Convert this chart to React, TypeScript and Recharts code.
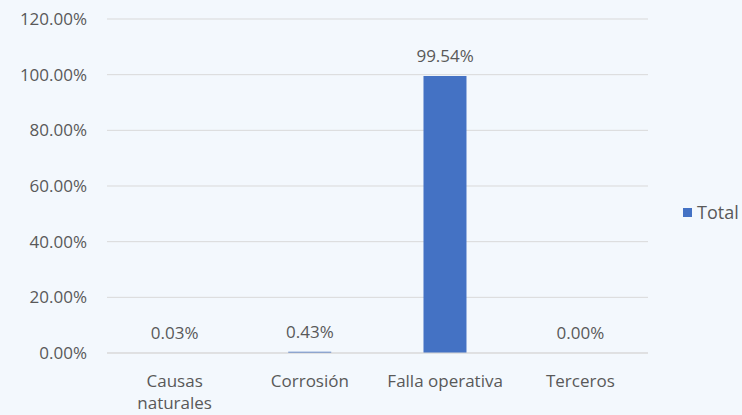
import React from "react";
import { ComposedChart, Bar, Line, XAxis, YAxis, CartesianGrid, Legend, LabelList } from "recharts";

const categories = ["Causas naturales", "Corrosión", "Falla operativa", "Terceros"];
const totals = [0.03, 0.43, 99.54, 0.0];
const yTicks = [0, 20, 40, 60, 80, 100, 120];
const seriesName = "Total";

const data = categories.map((c, i) => ({ name: c, total: totals[i] }));

const FONT = "'Open Sans', 'Noto Sans', sans-serif";
const FS = 17;
const TEXT = "#595959";
const BLUE = "#4472C4";

const fmt = (v: number) => `${Number(v).toFixed(2)}%`;

const XTick = (props: any) => {
  const { x, y, payload } = props;
  const label: string = payload.value;
  let lines = [label];
  if (label.length > 15) {
    const i = label.indexOf(" ");
    lines = [label.slice(0, i), label.slice(i + 1)];
  }
  return (
    <text x={x} y={y + 26} textAnchor="middle" fill={TEXT} fontSize={FS} fontFamily={FONT}>
      {lines.map((l, k) => (
        <tspan key={k} x={x} dy={k === 0 ? 0 : 22}>
          {l}
        </tspan>
      ))}
    </text>
  );
};

const PointLabel = (props: any) => {
  const { x, y, value } = props;
  return (
    <text x={x} y={y - 14} textAnchor="middle" fill={TEXT} fontSize={FS} fontFamily={FONT}>
      {fmt(value)}
    </text>
  );
};

const LegendContent = () => (
  <div style={{ display: "flex", alignItems: "center", fontFamily: FONT, fontSize: 18, color: TEXT, whiteSpace: "nowrap" }}>
    <span style={{ width: 9, height: 9, minWidth: 9, flexShrink: 0, background: BLUE, display: "inline-block", marginRight: 5 }} />
    <span>{seriesName}</span>
  </div>
);

export default function App() {
  return (
    <div style={{ position: "absolute", left: 0, top: 0, width: 742, height: 415, background: "#F3F8FD" }}>
      <ComposedChart width={742} height={415} data={data} margin={{ top: 19, right: 94, bottom: 0, left: 0 }} barCategoryGap="34%">
        <CartesianGrid vertical={false} stroke="#D9D9D9" />
        <XAxis
          dataKey="name"
          axisLine={{ stroke: "#D9D9D9" }}
          tickLine={false}
          tick={<XTick />}
          height={62}
          interval={0}
        />
        <YAxis
          domain={[0, 120]}
          ticks={yTicks}
          width={107}
          axisLine={false}
          tickLine={false}
          tickMargin={14}
          tickFormatter={fmt}
          tick={{ fill: TEXT, fontSize: FS, fontFamily: FONT }}
        />
        <Legend
          layout="vertical"
          align="right"
          verticalAlign="middle"
          content={<LegendContent />}
          wrapperStyle={{ position: "absolute", left: 683, top: 200, width: 0, height: 0, overflow: "visible" }}
        />
        <Bar dataKey="total" name={seriesName} fill={BLUE} isAnimationActive={false} />
        <Line
          dataKey="total"
          stroke="none"
          dot={false}
          activeDot={false}
          legendType="none"
          isAnimationActive={false}
        >
          <LabelList dataKey="total" content={<PointLabel />} />
        </Line>
      </ComposedChart>
    </div>
  );
}
